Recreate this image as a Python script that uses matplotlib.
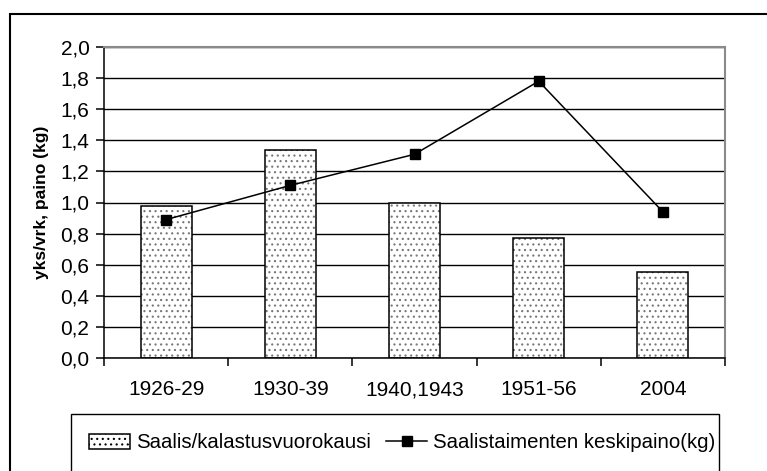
import matplotlib
matplotlib.use("Agg")
import matplotlib.pyplot as plt
from matplotlib.patches import Rectangle
import numpy as np

categories = ["1926-29", "1930-39", "1940,1943", "1951-56", "2004"]
saalis = [0.98, 1.34, 1.00, 0.77, 0.55]
keskipaino = [0.89, 1.11, 1.31, 1.78, 0.94]
yticks = [0.0, 0.2, 0.4, 0.6, 0.8, 1.0, 1.2, 1.4, 1.6, 1.8, 2.0]
ytick_labels = ["0,0", "0,2", "0,4", "0,6", "0,8", "1,0", "1,2", "1,4", "1,6", "1,8", "2,0"]

plt.rcParams["font.family"] = ["Liberation Sans", "DejaVu Sans"]
plt.rcParams["hatch.linewidth"] = 0.8

W, H = 767, 471
fig = plt.figure(figsize=(W / 100, H / 100), dpi=100)
ax = fig.add_axes([104 / W, 1 - 358 / H, (725 - 104) / W, (358 - 47) / H])

x = np.arange(len(categories))
# dotted fill in gray, then black outline on top
ax.bar(x, saalis, width=0.41, color="white", edgecolor="#777777", hatch="...",
       linewidth=0, zorder=2)
bars = ax.bar(x, saalis, width=0.41, fill=False, edgecolor="black",
              linewidth=1.1, zorder=2)
line, = ax.plot(x, keskipaino, color="black", linewidth=1.1, marker="s",
                markersize=7, zorder=3)

ax.set_xlim(-0.5, len(categories) - 0.5)
ax.set_ylim(0, 2.0)
ax.set_yticks(yticks)
ax.set_yticklabels(ytick_labels)
ax.yaxis.grid(True, color="black", linewidth=1.0, zorder=0)
ax.set_axisbelow(True)

ax.set_xticks(x)
ax.set_xticklabels(categories)
ax.set_xticks(np.arange(-0.5, len(categories)), minor=True)
ax.tick_params(axis="x", which="major", length=0, pad=16, labelsize=15)
ax.tick_params(axis="x", which="minor", length=6, width=1.1, direction="out")
ax.tick_params(axis="y", length=5.5, width=1.1, pad=5, labelsize=15)

for side in ["left", "bottom"]:
    ax.spines[side].set_color("black")
    ax.spines[side].set_linewidth(1.1)
for side in ["top", "right"]:
    ax.spines[side].set_color("#8a8a8a")
    ax.spines[side].set_linewidth(1.5)

ax.set_ylabel("yks/vrk, paino (kg)", fontsize=12.5, fontweight="bold", labelpad=8)

# legend box and outer frame
fig.patches.append(Rectangle((71 / W, -0.2), 648 / W, 0.2 + (471 - 414) / H,
                             transform=fig.transFigure, fill=False,
                             edgecolor="black", linewidth=1.0))
fig.patches.append(Rectangle((10 / W, -0.2), 1.2, 0.2 + (471 - 14) / H,
                             transform=fig.transFigure, fill=False,
                             edgecolor="black", linewidth=1.5))

legend_patch = Rectangle((0, 0), 1, 1, facecolor="white", edgecolor="black",
                         hatch="...", linewidth=1.1)
fig.legend([legend_patch, line],
           ["Saalis/kalastusvuorokausi", "Saalistaimenten keskipaino(kg)"],
           loc="center left", bbox_to_anchor=(79 / W, (471 - 443) / H), ncol=2,
           frameon=False, borderpad=0, handletextpad=0.3, columnspacing=0.75,
           handlelength=2.0, fontsize=14.7)

fig.savefig("out.png", dpi=100)
